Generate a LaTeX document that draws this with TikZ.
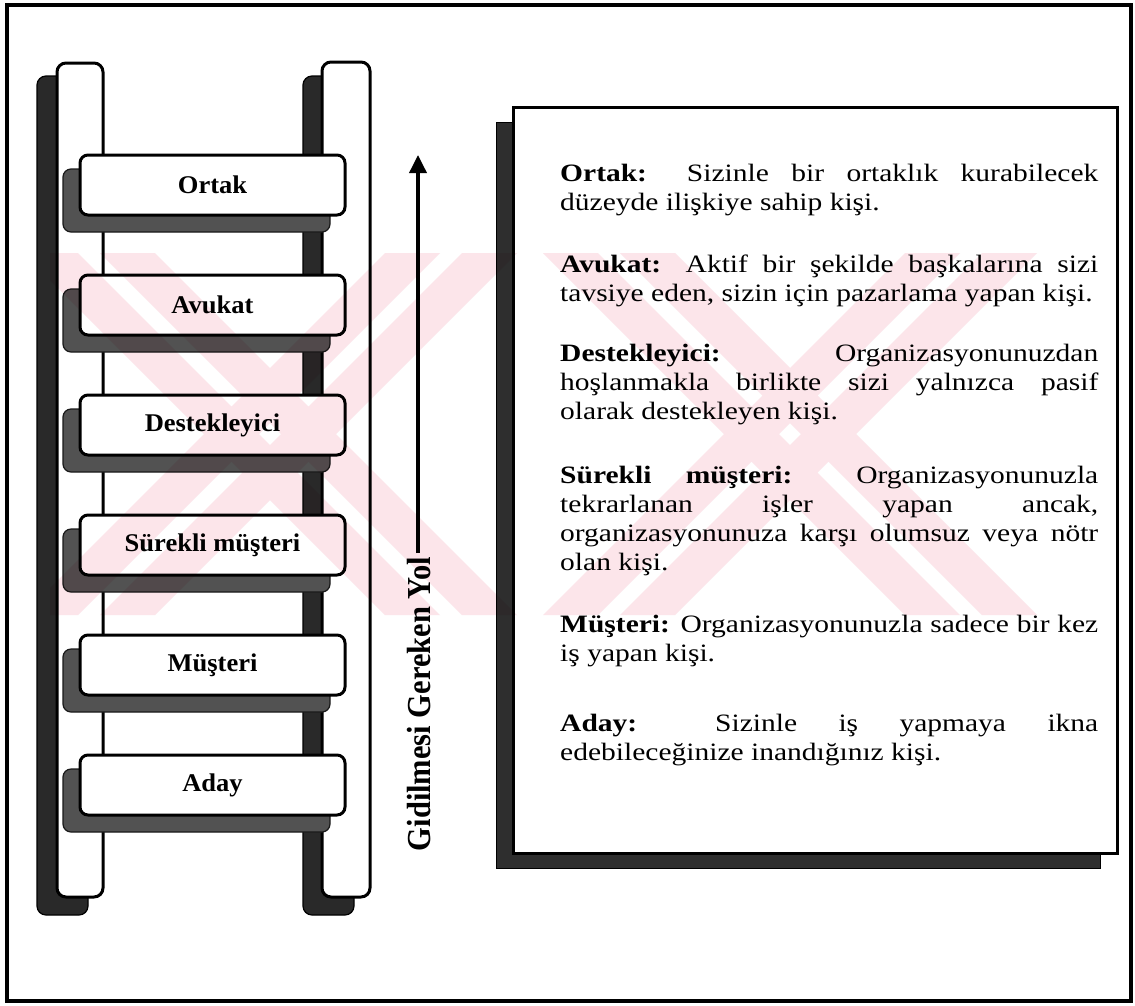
\documentclass[tikz,border=0pt]{standalone}
\usepackage{graphicx}
\usepackage{fontspec}
\setmainfont{Liberation Serif}
\usetikzlibrary{arrows.meta}

\definecolor{markpink}{RGB}{252,229,234}

% horizontally widened type, as set in the figure
\newcommand{\widetype}[2][1.18]{\scalebox{#1}[1]{#2}}
\newcommand{\para}[1]{\widetype{\parbox[t]{456pt}{\fontsize{25}{29}\selectfont
  \tolerance=10000 \hyphenpenalty=10000 #1}}}

\begin{document}
\begin{tikzpicture}[x=1pt,y=-1pt,
  outer/.style={line width=3.2pt},
  railshade/.style={fill=black!84, draw=black, line width=1.2pt, rounded corners=9pt},
  rungshade/.style={fill=black!68, draw=black!90, line width=1.2pt, rounded corners=8pt},
  railbox/.style={draw=black, fill=white, line width=3pt, rounded corners=9pt},
  rungbox/.style={draw=black, fill=white, line width=3pt, rounded corners=8pt,
    minimum width=265pt, minimum height=60pt, inner sep=0pt,
    font=\fontsize{25.5}{29}\selectfont\bfseries},
  panel/.style={draw=black, fill=white, line width=3pt},
  panelshade/.style={fill=black!82, draw=black, line width=1pt},
  body/.style={anchor=base west, inner sep=0pt},
  uparrow/.style={line width=3.6pt, -{Triangle[length=18pt,width=17pt]}},
  stripe/.style={fill=markpink, blend mode=multiply}
]
\useasboundingbox (0,0) rectangle (1135,1005);
\fill[white] (0,0) rectangle (1135,1005);
\draw[outer] (7,5) rectangle (1131,1001);

% ladder rails with their shadows
\draw[railshade] (37,76) rectangle (88,915);
\draw[railshade] (303,76) rectangle (354,915);
\draw[railbox] (57,63) rectangle (103,897);
\draw[railbox] (322,62) rectangle (370,897);

% rungs
\foreach \name/\label [count=\i from 0] in
  {ortak/Ortak, avukat/Avukat, destek/Destekleyici,
   surekli/Sürekli müşteri, musteri/Müşteri, aday/Aday}{
  \pgfmathsetmacro{\cy}{185+120*\i}
  \draw[rungshade] (63,\cy-16) rectangle (330,\cy+47);
  \node[rungbox] (\name) at (212.5,\cy) {\widetype[1.04]{\label}};
}

% direction arrow and its caption
\coordinate (arrowfoot) at (418,553);
\coordinate (arrowtip) at (418,155);
\draw[uparrow] (arrowfoot) -- (arrowtip);
\node[rotate=90, inner sep=0pt, font=\fontsize{30.5}{33}\selectfont\bfseries]
  (path) at (419,704) {\scalebox{1}[1.1]{Gidilmesi Gereken Yol}};

% description panel
\draw[panelshade] (496,122) rectangle (1100,868);
\draw[panel] (513,107) rectangle (1117,853);

\node[body] (dOrtak) at (560,181) {\para{\textbf{Ortak:} Sizinle bir ortaklık kurabilecek\linebreak
  düzeyde ilişkiye sahip kişi.}};
\node[body] (dAvukat) at (560,272) {\para{\textbf{Avukat:} Aktif bir şekilde başkalarına sizi\linebreak
  tavsiye eden, sizin için pazarlama yapan kişi.}};
\node[body] (dDestek) at (560,361) {\para{\textbf{Destekleyici:} Organizasyonunuzdan\linebreak
  hoşlanmakla birlikte sizi yalnızca pasif\linebreak olarak destekleyen kişi.}};
\node[body] (dSurekli) at (560,483) {\para{\textbf{Sürekli müşteri:} Organizasyonunuzla\linebreak
  tekrarlanan işler yapan ancak,\linebreak organizasyonunuza karşı olumsuz veya nötr\linebreak
  olan kişi.}};
\node[body] (dMusteri) at (560,632) {\para{\textbf{Müşteri:} Organizasyonunuzla sadece bir kez\linebreak
  iş yapan kişi.}};
\node[body] (dAday) at (560,731) {\para{\textbf{Aday:} Sizinle iş yapmaya ikna\linebreak
  edebileceğinize inandığınız kişi.}};

% pale diagonal stripe mark laid over the figure (one path, so overlaps stay even)
\begin{scope}
  \clip (50,253) rectangle (1060,615);
  \fill[stripe]
    \foreach \cx in {270,790}{
      \foreach \s in {-1,1}{
        \foreach \a/\b in {-66/-11, 11/66}{
          (\cx-181*\s+\a,253) -- (\cx-181*\s+\b,253)
          -- (\cx+181*\s+\b,615) -- (\cx+181*\s+\a,615) -- cycle
        }
      }
    };
\end{scope}
\end{tikzpicture}
\end{document}
